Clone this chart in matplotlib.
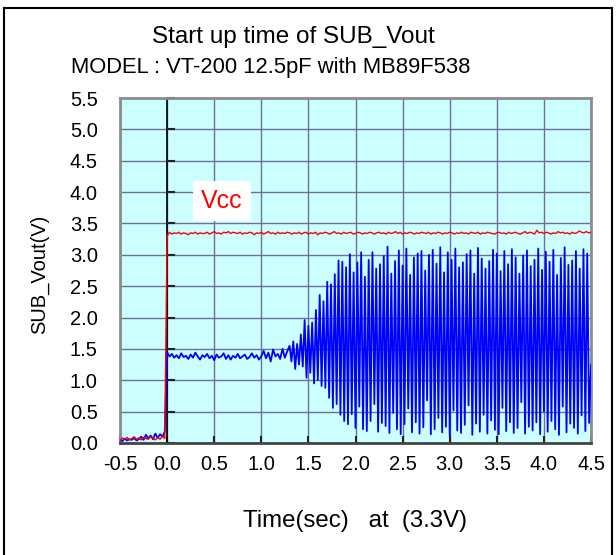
import numpy as np
import matplotlib
matplotlib.use("Agg")
import matplotlib.pyplot as plt
from matplotlib.lines import Line2D

plt.rcParams['font.family'] = ['Liberation Sans', 'DejaVu Sans']

# sampling
t0 = -0.5
dt = 0.025
osc_start = 1.3
dt_osc = 0.02
t_end = 4.5

# blue: SUB_Vout
blue_pre = [0.05, 0.03, 0.07, 0.04, 0.06, 0.05, 0.08, 0.04, 0.06, 0.10,
            0.05, 0.13, 0.07, 0.12, 0.06, 0.15, 0.08, 0.14, 0.10, 0.18]
blue_flat = [1.45, 1.38, 1.42, 1.36, 1.40, 1.35, 1.43, 1.37, 1.39, 1.34,
             1.41, 1.36, 1.44, 1.38, 1.33, 1.40, 1.37, 1.42, 1.35, 1.39,
             1.32, 1.41, 1.36, 1.38, 1.43, 1.34, 1.40, 1.33, 1.39, 1.36,
             1.42, 1.35, 1.38, 1.41, 1.34, 1.37, 1.43, 1.36, 1.40, 1.33,
             1.38, 1.47, 1.35, 1.44, 1.30, 1.49, 1.38, 1.42, 1.34, 1.50,
             1.36, 1.46]
peaks = [1.55, 1.62, 1.58, 1.73, 1.96, 1.87, 1.92, 2.12, 2.36, 2.26,
         2.57, 2.53, 2.69, 2.91, 2.89,
         2.80, 3.01, 2.72, 2.88, 3.04, 2.65, 2.92, 3.04, 2.78, 2.85,
         2.98, 3.13, 2.70, 2.90, 3.07, 2.83, 3.10, 2.68, 2.96, 3.02,
         3.06, 2.75, 3.00, 3.08, 2.86, 3.12, 2.72, 3.04, 2.92, 3.10,
         2.80, 2.88, 3.01, 3.07, 2.70, 3.11, 2.94, 2.78, 2.90, 3.08,
         3.02, 2.74, 3.06, 2.85, 3.09, 2.96, 2.70, 2.99, 3.07, 2.82,
         2.92, 3.10, 2.76, 3.05, 2.89, 3.08, 2.68, 2.95, 3.12, 2.84,
         2.91, 3.06, 2.78, 3.09, 3.02]
troughs = [1.30, 1.18, 1.25, 1.22, 1.04, 1.12, 0.95, 1.00, 0.91, 0.88,
           0.72, 0.56, 0.62, 0.45, 0.35,
           0.30, 0.46, 0.24, 0.58, 0.22, 0.19, 0.35, 0.62, 0.18, 0.32,
           0.27, 0.16, 0.48, 0.22, 0.14, 0.30, 0.55, 0.17, 0.33, 0.15,
           0.25, 0.68, 0.14, 0.22, 0.40, 0.17, 0.26, 0.12, 0.52, 0.20,
           0.16, 0.29, 0.60, 0.13, 0.31, 0.18, 0.45, 0.15, 0.36, 0.21,
           0.14, 0.56, 0.19, 0.33, 0.16, 0.24, 0.65, 0.15, 0.26, 0.20,
           0.33, 0.14, 0.50, 0.18, 0.35, 0.22, 0.13, 0.58, 0.17, 0.31,
           0.24, 0.15, 0.44, 0.19, 0.32]
blue_end = 1.25

# red: Vcc
red_pre = [0.04, 0.08, 0.06, 0.09, 0.05, 0.07, 0.10, 0.06, 0.08, 0.05,
           0.09, 0.07, 0.06, 0.10, 0.08, 0.05, 0.09, 0.06, 0.11, 0.07]
red_on = [3.30, 3.36, 3.33, 3.35, 3.34, 3.36, 3.33, 3.35, 3.34, 3.32,
          3.35, 3.34, 3.36, 3.33, 3.35, 3.34, 3.34, 3.36, 3.33, 3.35,
          3.37, 3.34, 3.35, 3.33, 3.36, 3.35, 3.37, 3.34, 3.36, 3.35,
          3.34, 3.36, 3.33, 3.35, 3.34, 3.36, 3.35, 3.32, 3.35, 3.34,
          3.36, 3.33, 3.35, 3.37, 3.34, 3.35, 3.33, 3.36, 3.34, 3.35,
          3.34, 3.36, 3.35, 3.33, 3.35, 3.34, 3.36, 3.33, 3.35, 3.36,
          3.33, 3.35, 3.34, 3.36, 3.32, 3.35, 3.34, 3.36, 3.35, 3.33,
          3.35, 3.37, 3.34, 3.35, 3.33, 3.36, 3.34, 3.35, 3.36, 3.33,
          3.34, 3.36, 3.35, 3.33, 3.35, 3.34, 3.36, 3.35, 3.33, 3.35,
          3.36, 3.34, 3.35, 3.33, 3.36, 3.34, 3.35, 3.37, 3.34, 3.36,
          3.33, 3.35, 3.34, 3.36, 3.35, 3.33, 3.35, 3.34, 3.36, 3.35,
          3.34, 3.36, 3.33, 3.35, 3.34, 3.36, 3.35, 3.33, 3.35, 3.34,
          3.36, 3.35, 3.33, 3.35, 3.34, 3.36, 3.34, 3.35, 3.33, 3.36,
          3.35, 3.34, 3.36, 3.33, 3.35, 3.34, 3.36, 3.35, 3.34, 3.33,
          3.35, 3.36, 3.34, 3.35, 3.33, 3.36, 3.34, 3.35, 3.36, 3.34,
          3.33, 3.35, 3.37, 3.34, 3.36, 3.35, 3.33, 3.39, 3.35, 3.36,
          3.34, 3.36, 3.35, 3.33, 3.35, 3.34, 3.37, 3.35, 3.36, 3.34,
          3.35, 3.33, 3.36, 3.34, 3.35, 3.38, 3.36, 3.35, 3.37, 3.35,
          3.36]

xticks = [-0.5, 0.0, 0.5, 1.0, 1.5, 2.0, 2.5, 3.0, 3.5, 4.0, 4.5]
yticks = [0.0, 0.5, 1.0, 1.5, 2.0, 2.5, 3.0, 3.5, 4.0, 4.5, 5.0, 5.5]

# assemble the blue trace: slow part, then the oscillation (peak, trough, ...)
slow = blue_pre + blue_flat
osc = [v for pair in zip(peaks, troughs) for v in pair]
tb = np.concatenate([t0 + dt * np.arange(len(slow)),
                     osc_start + dt_osc * np.arange(len(osc)), [t_end]])
blue = np.array(slow + osc + [blue_end])
red = np.array(red_pre + red_on)
tr = t0 + dt * np.arange(len(red))

fig = plt.figure(figsize=(6.16, 5.55), dpi=100)
ax = fig.add_axes([120/616, 1-443/555, 471/616, 345/555])
ax.set_facecolor('#CCFFFF')

ax.plot(tb, blue, color='#0000FF', lw=1.3, zorder=3)
ax.plot(tr, red, color='#FF0000', lw=1.0, zorder=4)

tickfont = ['Liberation Sans Narrow', 'Liberation Sans', 'DejaVu Sans']
ax.set_xlim(-0.5, 4.5)
ax.set_ylim(0, 5.5)
ax.set_xticks(xticks)
ax.set_yticks(yticks)
ax.set_xticklabels(['%.1f' % v for v in xticks], family=tickfont, fontsize=14.5)
ax.set_yticklabels(['%.1f' % v for v in yticks], family=tickfont, fontsize=14.5)
ax.grid(True, color='#6e6e9e', lw=1.0)
ax.set_axisbelow(True)
ax.tick_params(axis='x', direction='in', length=5, width=1.5, color='#222222', pad=9)
ax.tick_params(axis='y', length=0, pad=16)

# y axis line at t = 0 with short ticks to the right
ax.axvline(0, color='black', lw=1.2, zorder=2)
ax.plot(np.zeros(len(yticks)), yticks, ls='none', marker=1, ms=6, mew=1.5,
        color='#222222', zorder=2, clip_on=False)

for s in ['left', 'top', 'right']:
    ax.spines[s].set_color('#8c8c8c')
    ax.spines[s].set_linewidth(2)
ax.spines['bottom'].set_color('#444444')
ax.spines['bottom'].set_linewidth(2)

ax.text(0.58, 3.86, 'Vcc', color='#FF0000', fontsize=18, ha='center', va='center',
        bbox=dict(fc='white', ec='none', pad=6), zorder=5)

fig.text(293/616, 1-37/555, 'Start up time of SUB_Vout', fontsize=17.5,
         ha='center', va='center')
fig.text(271/616, 1-67/555, 'MODEL : VT-200 12.5pF with MB89F538', fontsize=15.8,
         ha='center', va='center')
fig.text(40/616, 1-274/555, 'SUB_Vout(V)', fontsize=14.5, rotation=90,
         ha='center', va='center')
fig.text(355/616, 1-521/555, 'Time(sec)   at  (3.3V)', fontsize=17.3,
         ha='center', va='center')

# figure frame
for xs, ys in [([4, 4], [8, 560]), ([4, 612], [8, 8]), ([612, 612], [8, 560])]:
    fig.add_artist(Line2D([x/616 for x in xs], [1-y/555 for y in ys],
                          color='black', lw=1.5))

fig.savefig('out.png', dpi=100)
